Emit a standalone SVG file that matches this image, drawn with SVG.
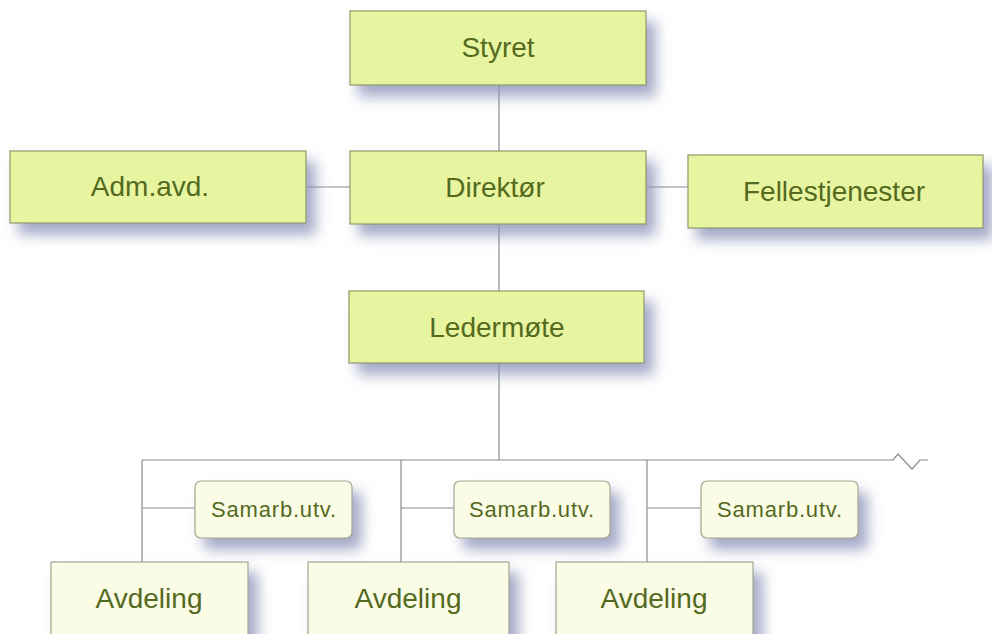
<svg xmlns="http://www.w3.org/2000/svg" width="992" height="634" viewBox="0 0 992 634">
<style>
.g{fill:#e8f5a0;stroke:#8e9868;stroke-width:1.2}
.c{fill:#fbfce6;stroke:#a4a690;stroke-width:1.2}
.t{font-family:"Liberation Sans",Arial,sans-serif;font-size:28px;fill:#546a1e;text-anchor:middle}
.s{font-family:"Liberation Sans",Arial,sans-serif;font-size:22px;fill:#546a1e;text-anchor:middle;letter-spacing:0.8px}
.ln{stroke:#8a8b92;stroke-width:1.2;fill:none}
</style>
<defs>
<filter id="sh" x="-15%" y="-30%" width="140%" height="180%">
<feOffset in="SourceAlpha" dx="9" dy="11" result="o"/>
<feGaussianBlur in="o" stdDeviation="7" result="b"/>
<feFlood flood-color="#8c92b8" flood-opacity="0.8"/>
<feComposite in2="b" operator="in" result="s"/>
<feMerge><feMergeNode in="s"/><feMergeNode in="SourceGraphic"/></feMerge>
</filter>
</defs>
<rect width="992" height="634" fill="#ffffff"/>
<g id="connectors" class="ln">
<line x1="499" y1="85" x2="499" y2="151"/>
<line x1="499" y1="224" x2="499" y2="291"/>
<line x1="499" y1="363" x2="499" y2="460"/>
<line x1="306" y1="187" x2="350" y2="187"/>
<line x1="646" y1="187" x2="688" y2="187"/>
<polyline points="142,460 893,460 898,454 912,469 920,460 928,460"/>
<line x1="142" y1="460" x2="142" y2="562"/>
<line x1="401" y1="460" x2="401" y2="562"/>
<line x1="647" y1="460" x2="647" y2="562"/>
<line x1="142" y1="508" x2="195" y2="508"/>
<line x1="401" y1="508" x2="454" y2="508"/>
<line x1="647" y1="508" x2="701" y2="508"/>
</g>
<g id="styret"><rect class="g" x="350" y="11" width="296" height="74" filter="url(#sh)"/><text class="t" x="498" y="57">Styret</text></g>
<g id="adm"><rect class="g" x="10" y="151" width="296" height="72" filter="url(#sh)"/><text class="t" x="150" y="196">Adm.avd.</text></g>
<g id="direktor"><rect class="g" x="350" y="151" width="296" height="73" filter="url(#sh)"/><text class="t" x="495" y="197">Direktør</text></g>
<g id="felles"><rect class="g" x="688" y="155" width="295" height="73" filter="url(#sh)"/><text class="t" x="834" y="201">Fellestjenester</text></g>
<g id="ledermote"><rect class="g" x="349" y="291" width="295" height="72" filter="url(#sh)"/><text class="t" x="497" y="337">Ledermøte</text></g>
<g id="samarb1"><rect class="c" x="195" y="481" width="157" height="57" rx="6" filter="url(#sh)"/><text class="s" x="274" y="517">Samarb.utv.</text></g>
<g id="samarb2"><rect class="c" x="454" y="481" width="156" height="57" rx="6" filter="url(#sh)"/><text class="s" x="532" y="517">Samarb.utv.</text></g>
<g id="samarb3"><rect class="c" x="701" y="481" width="157" height="57" rx="6" filter="url(#sh)"/><text class="s" x="780" y="517">Samarb.utv.</text></g>
<g id="avd1"><rect class="c" x="51" y="562" width="197" height="90" filter="url(#sh)"/><text class="t" x="149" y="608">Avdeling</text></g>
<g id="avd2"><rect class="c" x="308" y="562" width="201" height="90" filter="url(#sh)"/><text class="t" x="408" y="608">Avdeling</text></g>
<g id="avd3"><rect class="c" x="556" y="562" width="197" height="90" filter="url(#sh)"/><text class="t" x="654" y="608">Avdeling</text></g>
</svg>
